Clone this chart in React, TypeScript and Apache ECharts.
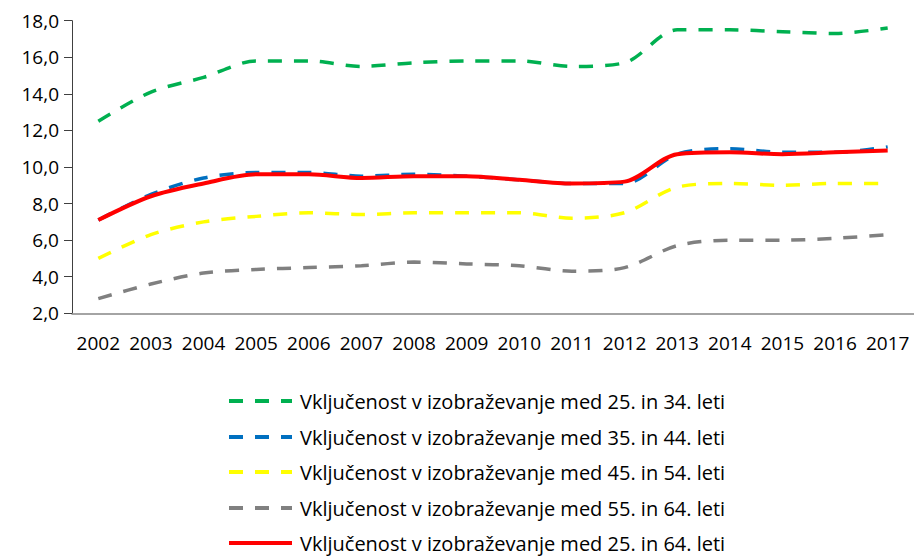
import React, { useEffect, useRef } from "react";
import * as echarts from "echarts";

const years = ["2002","2003","2004","2005","2006","2007","2008","2009","2010","2011","2012","2013","2014","2015","2016","2017"];
const names = [
  "Vključenost v izobraževanje med 25. in 34. leti",
  "Vključenost v izobraževanje med 35. in 44. leti",
  "Vključenost v izobraževanje med 45. in 54. leti",
  "Vključenost v izobraževanje med 55. in 64. leti",
  "Vključenost v izobraževanje med 25. in 64. leti",
];
const s2534 = [12.5,14.1,14.9,15.8,15.8,15.5,15.7,15.8,15.8,15.5,15.7,17.5,17.5,17.4,17.3,17.6];
const s3544 = [7.1,8.5,9.4,9.7,9.7,9.5,9.6,9.5,9.3,9.1,9.1,10.7,11.0,10.8,10.8,11.1];
const s4554 = [5.0,6.3,7.0,7.3,7.5,7.4,7.5,7.5,7.5,7.2,7.5,8.9,9.1,9.0,9.1,9.1];
const s5564 = [2.8,3.6,4.2,4.4,4.5,4.6,4.8,4.7,4.6,4.3,4.5,5.7,6.0,6.0,6.1,6.3];
const s2564 = [7.1,8.4,9.1,9.6,9.6,9.4,9.5,9.5,9.3,9.1,9.2,10.7,10.8,10.7,10.8,10.9];
const colors = ["#00B050","#0070C0","#FFFF00","#808080","#FF0000"];
const legendTops = [391, 427, 462, 498, 533];

const FONT = "Open Sans";

export default function App() {
  const ref = useRef<HTMLDivElement>(null);
  useEffect(() => {
    if (!ref.current) return;
    const chart = echarts.init(ref.current, null, { renderer: "svg" });
    const data = [s2534, s3544, s4554, s5564, s2564];
    chart.setOption({
      animation: false,
      textStyle: { fontFamily: FONT },
      grid: { left: 72, top: 20.7, width: 846.5, height: 292.6, containLabel: false },
      xAxis: {
        type: "category",
        data: years,
        boundaryGap: true,
        axisLine: { lineStyle: { color: "#868686", width: 1.5 } },
        axisTick: { length: 8, lineStyle: { color: "#404040" } },
        axisLabel: { color: "#000", fontSize: 19, margin: 20, interval: 0, fontFamily: FONT },
        splitLine: { show: false },
      },
      yAxis: {
        type: "value",
        min: 2,
        max: 18,
        interval: 2,
        axisLine: { show: true, lineStyle: { color: "#404040", width: 1 } },
        axisTick: { show: true, length: 8, lineStyle: { color: "#404040" } },
        axisLabel: {
          color: "#000",
          fontSize: 19,
          margin: 13,
          fontFamily: FONT,
          formatter: (v: number) => v.toFixed(1).replace(".", ","),
        },
        splitLine: { show: false },
      },
      legend: names.map((n, i) => ({
        orient: "vertical",
        left: 227,
        top: legendTops[i],
        itemWidth: 63,
        itemHeight: 20,
        padding: 0,
        itemStyle: { opacity: 0, color: "rgba(0,0,0,0)", borderWidth: 0 },
        lineStyle: { width: 4 },
        textStyle: { color: "#000", fontSize: 20, lineHeight: 20, fontFamily: FONT, padding: [0, 0, 0, 3] },
        data: [n],
      })),
      series: data.map((d, i) => ({
        name: names[i],
        type: "line",
        data: d,
        smooth: 0.3,
        symbol: "none",
        showSymbol: false,
        z: i === 4 ? 10 : 5 - i,
        lineStyle: {
          color: colors[i],
          width: i === 4 ? 4 : 3.5,
          type: i === 4 ? "solid" : [14, 12],
        },
        itemStyle: { color: colors[i] },
      })),
    });
    return () => chart.dispose();
  }, []);
  return (
    <div
      ref={ref}
      style={{ position: "absolute", left: 0, top: 0, width: 914, height: 556, background: "#fff" }}
    />
  );
}
